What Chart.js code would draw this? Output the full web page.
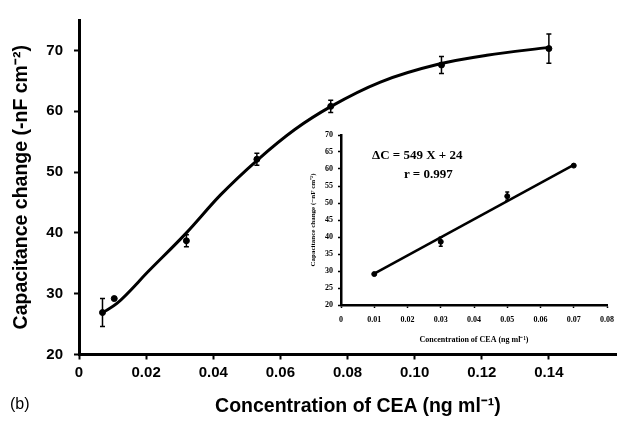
<!DOCTYPE html>
<html><head><meta charset="utf-8">
<script src="https://cdn.jsdelivr.net/npm/chart.js"></script>
<style>
html,body{margin:0;padding:0;background:#fff;}
#wrap{position:relative;width:621px;height:427px;overflow:hidden;background:#fff;}
#main{position:absolute;left:0;top:0;}
#inset{position:absolute;left:300px;top:125px;}
.txt{position:absolute;white-space:nowrap;color:#000;line-height:1;}
</style></head><body>
<div id="wrap">
<canvas id="main" width="621" height="427"></canvas>
<canvas id="inset" width="321" height="225"></canvas>
<div class="txt" style="left:372px;top:147px;font:bold 13px 'Liberation Serif',serif;">ΔC = 549 X + 24</div>
<div class="txt" style="left:404px;top:166px;font:bold 13px 'Liberation Serif',serif;">r = 0.997</div>
<div class="txt" style="left:10px;top:395px;font:16px 'Liberation Sans',Arial,sans-serif;">(b)</div>
<div class="txt" style="left:158px;width:400px;text-align:center;top:391px;font:bold 19.5px 'Liberation Sans',Arial,sans-serif;">Concentration of CEA (ng ml⁻¹)</div>
</div>
<script>
// ---- main chart data ----
const mainConc = [0.007, 0.0105, 0.032, 0.053, 0.075, 0.108, 0.140];
const mainCap  = [26.9, 29.2, 38.7, 52.1, 60.8, 67.6, 70.3];
const mainErr  = [2.3, 0, 1.0, 1.0, 1.0, 1.4, 2.4];
const curveConc = [0.0071, 0.0113, 0.0209, 0.032, 0.0421, 0.0534, 0.0643, 0.0751, 0.0898, 0.1076, 0.1215, 0.140];
const curveCap  = [26.9, 28.4, 33.8, 40.0, 46.2, 52.1, 57.0, 60.8, 64.8, 67.8, 69.2, 70.5];
const mainXTicks = [0, 0.02, 0.04, 0.06, 0.08, 0.10, 0.12, 0.14];
const mainYTicks = [20, 30, 40, 50, 60, 70];
// ---- inset data ----
const insetConc = [0.01, 0.03, 0.05, 0.07];
const insetCap  = [29.1, 38.6, 52.0, 61.0];
const insetErr  = [0, 1.3, 1.2, 0];
const insetFitConc = [0.01, 0.07];
const insetFitCap  = [29.2, 61.2];
const insetXTicks = [0, 0.01, 0.02, 0.03, 0.04, 0.05, 0.06, 0.07, 0.08];
const insetYTicks = [20, 25, 30, 35, 40, 45, 50, 55, 60, 65, 70];

const pts = (xs, ys) => xs.map((x, i) => ({x: x, y: ys[i]}));

const errorBarPlugin = {
  id: 'errbars',
  afterDatasetsDraw(chart) {
    const ctx = chart.ctx, xs = chart.scales.x, ys = chart.scales.y;
    chart.data.datasets.forEach(ds => {
      if (!ds.errors) return;
      ctx.save();
      ctx.strokeStyle = '#000';
      ctx.lineWidth = ds.errWidth || 1.5;
      ds.data.forEach((p, i) => {
        const e = ds.errors[i];
        if (!e) return;
        const px = xs.getPixelForValue(p.x);
        const y1 = ys.getPixelForValue(p.y - e);
        const y2 = ys.getPixelForValue(p.y + e);
        const c = ds.capHalf || 2.5;
        ctx.beginPath();
        ctx.moveTo(px, y1); ctx.lineTo(px, y2);
        ctx.moveTo(px - c, y1); ctx.lineTo(px + c, y1);
        ctx.moveTo(px - c, y2); ctx.lineTo(px + c, y2);
        ctx.stroke();
      });
      ctx.restore();
    });
  }
};

const sans = "'Liberation Sans', Arial, sans-serif";
const serif = "'Liberation Serif', 'Times New Roman', serif";
const fmt = v => v === 0 ? '0' : v.toFixed(2);

new Chart(document.getElementById('main'), {
  type: 'scatter',
  data: {
    datasets: [
      {
        type: 'line', data: pts(curveConc, curveCap), borderColor: '#000', borderWidth: 3,
        pointRadius: 0, cubicInterpolationMode: 'monotone', fill: false
      },
      {
        data: pts(mainConc, mainCap), errors: mainErr, backgroundColor: '#000', borderColor: '#000',
        pointRadius: 3, pointStyle: 'circle'
      }
    ]
  },
  options: {
    responsive: false, animation: false, devicePixelRatio: 1,
    layout: {padding: {top: 15, right: 2, left: 0, bottom: 0}},
    plugins: {legend: {display: false}, tooltip: {enabled: false}},
    scales: {
      x: {
        type: 'linear', min: 0, max: 0.16,
        afterBuildTicks: s => { s.ticks = mainXTicks.map(v => ({value: v})); },
        afterFit: s => { s.height = 72.5; },
        border: {display: true, color: '#000', width: 3},
        grid: {display: true, drawOnChartArea: false, drawTicks: true, tickLength: 5, tickWidth: 2, tickColor: '#000'},
        ticks: {color: '#000', padding: 4, maxRotation: 0, font: {family: sans, size: 15, weight: 'bold'}, callback: v => fmt(v)},
        title: {display: false}
      },
      y: {
        type: 'linear', min: 20, max: 75,
        afterBuildTicks: s => { s.ticks = mainYTicks.map(v => ({value: v})); },
        afterFit: s => { s.width = 79; },
        border: {display: true, color: '#000', width: 3},
        grid: {display: true, drawOnChartArea: false, drawTicks: true, tickLength: 5, tickWidth: 2, tickColor: '#000'},
        ticks: {color: '#000', padding: 11, font: {family: sans, size: 15, weight: 'bold'}},
        title: {display: true, text: 'Capacitance change (-nF cm⁻²)', color: '#000', font: {family: sans, size: 19.5, weight: 'bold'}, padding: {top: 10, bottom: 0}}
      }
    }
  },
  plugins: [errorBarPlugin]
});

new Chart(document.getElementById('inset'), {
  type: 'scatter',
  data: {
    datasets: [
      {
        type: 'line', data: pts(insetFitConc, insetFitCap), borderColor: '#000', borderWidth: 2.5,
        pointRadius: 0, fill: false
      },
      {
        data: pts(insetConc, insetCap), errors: insetErr, errWidth: 1.5, capHalf: 2,
        backgroundColor: '#000', borderColor: '#000', pointRadius: 2.5
      }
    ]
  },
  options: {
    responsive: false, animation: false, devicePixelRatio: 1,
    layout: {padding: {top: 10, right: 9, left: 0, bottom: 0}},
    plugins: {legend: {display: false}, tooltip: {enabled: false}},
    scales: {
      x: {
        type: 'linear', min: 0, max: 0.08,
        afterBuildTicks: s => { s.ticks = insetXTicks.map(v => ({value: v})); },
        afterFit: s => { s.height = 45; },
        border: {display: true, color: '#000', width: 2.5},
        grid: {display: true, drawOnChartArea: false, drawTicks: true, tickLength: 3, tickWidth: 1.5, tickColor: '#000'},
        ticks: {color: '#000', padding: 7, maxRotation: 0, autoSkip: false, font: {family: serif, size: 8, weight: 'bold'}, callback: v => fmt(v)},
        title: {display: true, text: 'Concentration of CEA (ng ml⁻¹)', color: '#000', font: {family: serif, size: 8, weight: 'bold'}, padding: {top: 0, bottom: 5}}
      },
      y: {
        type: 'linear', min: 20, max: 70,
        afterBuildTicks: s => { s.ticks = insetYTicks.map(v => ({value: v})); },
        afterFit: s => { s.width = 41; },
        border: {display: true, color: '#000', width: 2.5},
        grid: {display: true, drawOnChartArea: false, drawTicks: true, tickLength: 3, tickWidth: 1.5, tickColor: '#000'},
        ticks: {color: '#000', padding: 5, autoSkip: false, font: {family: serif, size: 8, weight: 'bold'}},
        title: {display: true, text: 'Capacitance change (−nF cm⁻²)', color: '#000', font: {family: serif, size: 7, weight: 'bold'}, padding: {top: 9, bottom: 0}}
      }
    }
  },
  plugins: [errorBarPlugin]
});
</script>
</body></html>
